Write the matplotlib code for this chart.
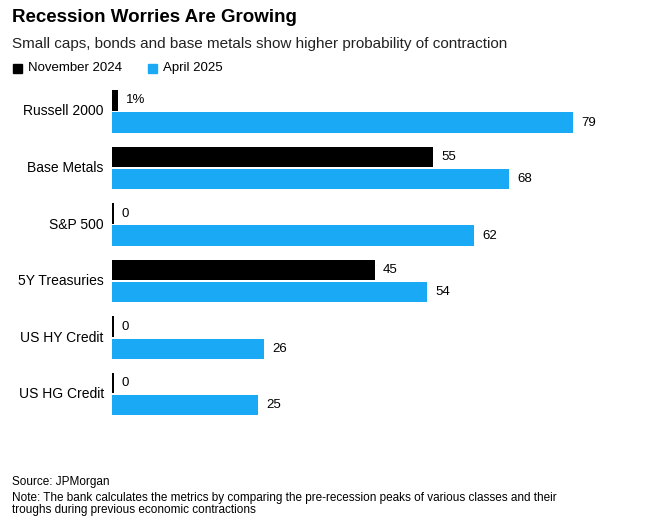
import numpy as np
import matplotlib.pyplot as plt

plt.rcParams["font.family"] = "Liberation Sans"

categories = ["Russell 2000", "Base Metals", "S&P 500", "5Y Treasuries", "US HY Credit", "US HG Credit"]
nov_2024 = [1, 55, 0, 45, 0, 0]
apr_2025 = [79, 68, 62, 54, 26, 25]

black = "#000000"
blue = "#1aaaf5"

fig = plt.figure(figsize=(6.5, 5.3), dpi=100)
ax = fig.add_axes([112 / 650, 1 - 418 / 530, 528 / 650, 328 / 530])

y = np.arange(len(categories))
off = 0.195
h = 0.36
# zero bars still show as a thin stroke in the original
nov_draw = [max(v, 0.3) for v in nov_2024]
ax.barh(y - off, nov_draw, height=h, color=black)
ax.barh(y + off, apr_2025, height=h, color=blue)

for i, v in enumerate(nov_2024):
    lab = f"{v}%" if i == 0 else f"{v}"
    ax.text(max(v, 0.3) + 1.4, y[i] - off, lab, va="center", ha="left", fontsize=9.5)
for i, v in enumerate(apr_2025):
    ax.text(v + 1.4, y[i] + off, f"{v}", va="center", ha="left", fontsize=9.5)

for i, c in enumerate(categories):
    ax.text(-1.4, y[i], c, va="center", ha="right", fontsize=10)

ax.set_xlim(0, 90.5)
ax.set_ylim(5.42, -0.38)
ax.axis("off")

fig.text(12 / 650, 1 - 18 / 530, "Recession Worries Are Growing", fontsize=13.5,
         fontweight="bold", va="center", ha="left")
fig.text(12 / 650, 1 - 44 / 530,
         "Small caps, bonds and base metals show higher probability of contraction",
         fontsize=11, va="center", ha="left", color="#222222")
fig.patches.append(plt.Rectangle((13 / 650, 1 - 73 / 530), 9 / 650, 9 / 530,
                                 color=black, transform=fig.transFigure))
fig.text(28 / 650, 1 - 68 / 530, "November 2024", fontsize=9.5, va="center")
fig.patches.append(plt.Rectangle((148 / 650, 1 - 73 / 530), 9 / 650, 9 / 530,
                                 color=blue, transform=fig.transFigure))
fig.text(163 / 650, 1 - 68 / 530, "April 2025", fontsize=9.5, va="center")

fig.text(12 / 650, 1 - 482 / 530, "Source: JPMorgan", fontsize=8.5, va="center")
fig.text(12 / 650, 1 - 504 / 530,
         "Note: The bank calculates the metrics by comparing the pre-recession peaks of various classes and their\n"
         "troughs during previous economic contractions", fontsize=8.5, va="center", linespacing=1.1)

fig.savefig("out.png", dpi=100)
